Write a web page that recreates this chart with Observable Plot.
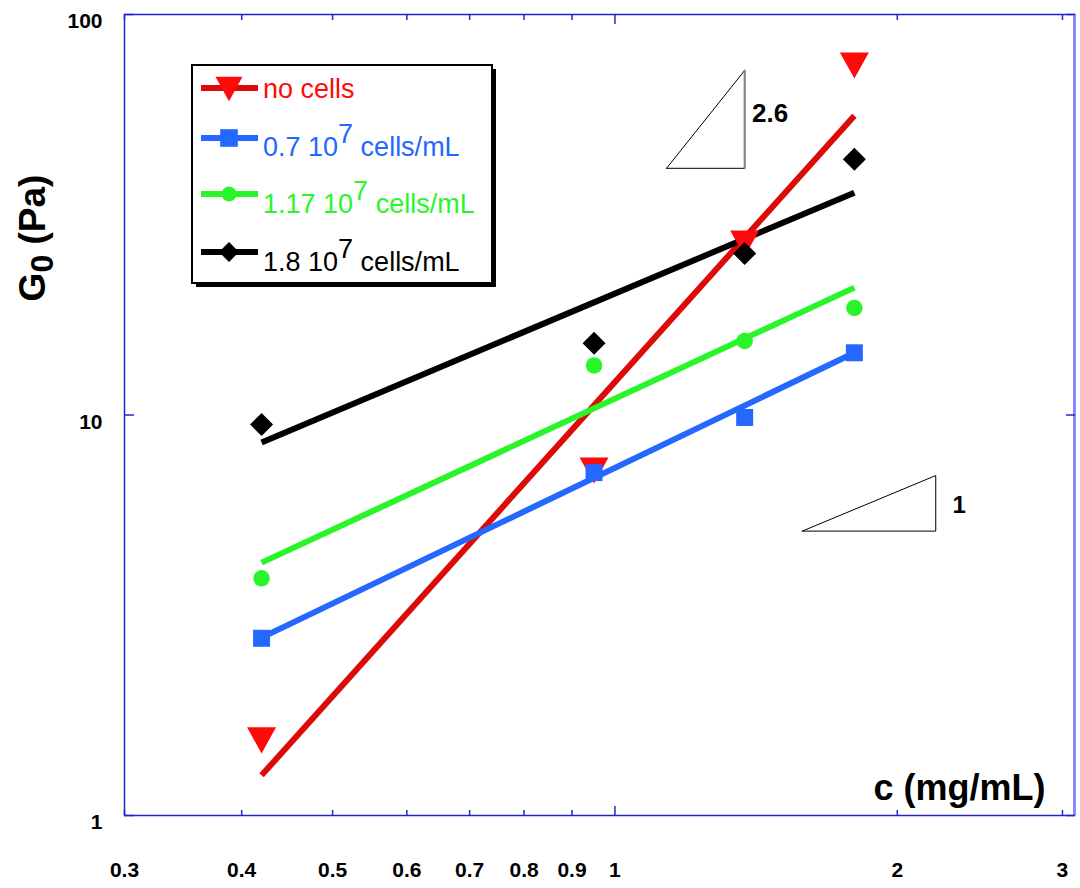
<!DOCTYPE html>
<html><head><meta charset="utf-8">
<script src="https://cdn.jsdelivr.net/npm/d3@7"></script>
<script src="https://cdn.jsdelivr.net/npm/@observablehq/plot@0.6"></script>
<style>body{margin:0;background:#fff} svg{display:block}</style>
</head><body><div id="chart"></div>
<script>
// ---- data ----
const conc = [0.42, 0.95, 1.375, 1.8];                 // c (mg/mL)
const noCells = [1.54, 7.27, 26.8, 74.6];              // G0 (Pa)
const cells07 = [2.77, 7.18, 9.86, 14.3];
const cells117 = [3.91, 13.3, 15.3, 18.5];
const cells18 = [9.47, 15.1, 25.3, 43.5];
const fitConc = [0.42, 1.8];                           // power-law fit end points
const fitNoCells = [1.26, 55.9];
const fit07 = [2.78, 14.3];
const fit117 = [4.28, 20.8];
const fit18 = [8.54, 35.9];
const seriesNames = ["no cells", "0.7 10", "1.17 10", "1.8 10"];
const seriesSup = ["", "7", "7", "7"];
const seriesUnit = ["", " cells/mL", " cells/mL", " cells/mL"];
const xDomain = [0.3, 3.09];
const yDomain = [1, 100];
const xTickValues = [0.3, 0.4, 0.5, 0.6, 0.7, 0.8, 0.9, 1, 2, 3];
const xMinorTicks = [0.3, 0.4, 0.5, 0.6, 0.7, 0.8, 0.9, 2, 3];
const xMajorTicks = [1];
const yTickValues = [1, 10, 100];
const tri1X = [1.135, 1.375, 1.375, 1.135];
const tri1Y = [41.3, 41.3, 72.5, 41.3];
const tri2X = [1.584, 2.198, 2.198, 1.584];
const tri2Y = [5.13, 5.13, 7.06, 5.13];
const slopeLabels = ["2.6", "1"];
const slopeLabelX = [1.40, 2.29];
const slopeLabelY = [54.0, 5.68];

const FONT = "'Liberation Sans', Arial, Helvetica, sans-serif";
const lineColors = ["#dd0a0a", "#2468ff", "#2af52a", "#000000"];
const markColors = ["#ff0a0a", "#2468ff", "#2af52a", "#000000"];
const axisBlue = "#2323cf";

// custom symbols
const invTriangle = {draw(ctx, size) { const r = Math.sqrt(size / Math.PI);
  ctx.moveTo(-r, -0.9 * r); ctx.lineTo(r, -0.9 * r); ctx.lineTo(0, 0.9 * r); ctx.closePath(); }};
const square = {draw(ctx, size) { const r = Math.sqrt(size / Math.PI); ctx.rect(-r, -r, 2 * r, 2 * r); }};
const circle = {draw(ctx, size) { const r = Math.sqrt(size / Math.PI); ctx.moveTo(r, 0); ctx.arc(0, 0, r, 0, 2 * Math.PI); }};
const diamond = {draw(ctx, size) { const r = Math.sqrt(size / Math.PI);
  ctx.moveTo(0, -r); ctx.lineTo(r, 0); ctx.lineTo(0, r); ctx.lineTo(-r, 0); ctx.closePath(); }};
const symbols = [invTriangle, square, circle, diamond];
const plotR = [14.5, 8.5, 8.25, 11.5];
const legendR = [13.5, 8.8, 7.5, 10];

const values = [noCells, cells07, cells117, cells18];
const fits = [fitNoCells, fit07, fit117, fit18];

const lineMarks = fits.map((f, i) => Plot.line(fitConc.map((c, j) => ({c, g: f[j]})),
  {x: "c", y: "g", stroke: lineColors[i], strokeWidth: 6, strokeLinecap: "butt"}));
const dotMarks = values.map((v, i) => Plot.dot(conc.map((c, j) => ({c, g: v[j]})),
  {x: "c", y: "g", symbol: symbols[i], r: plotR[i], fill: markColors[i], stroke: "none"}));

function legendMark() {
  const g = d3.create("svg:g").attr("font-family", FONT).attr("text-anchor", "start");
  g.append("rect").attr("x", 196).attr("y", 69).attr("width", 300).attr("height", 218).attr("fill", "#000");
  g.append("rect").attr("x", 192).attr("y", 65).attr("width", 300).attr("height", 218)
    .attr("fill", "#fff").attr("stroke", "#000").attr("stroke-width", 2);
  const lineY = [88, 138, 194, 252];
  const baseY = [98, 156, 213, 271];
  seriesNames.forEach((name, i) => {
    g.append("line").attr("x1", 201).attr("x2", 258).attr("y1", lineY[i]).attr("y2", lineY[i])
      .attr("stroke", lineColors[i]).attr("stroke-width", 6);
    g.append("path").attr("transform", `translate(229,${lineY[i] + (i === 0 ? 1 : 0)})`)
      .attr("d", d3.symbol(symbols[i], Math.PI * legendR[i] ** 2)()).attr("fill", markColors[i]);
    const t = g.append("text").attr("x", 263).attr("y", baseY[i]).attr("font-size", 27)
      .attr("text-anchor", "start").attr("fill", markColors[i]);
    t.append("tspan").text(name);
    if (seriesSup[i]) {
      t.append("tspan").attr("dy", -13).text(seriesSup[i]);
      t.append("tspan").attr("dy", 13).text(seriesUnit[i]);
    }
  });
  return g.node();
}

function yTitleMark() {
  const g = d3.create("svg:g");
  const t = g.append("text").attr("transform", "translate(45,238) rotate(-90)")
    .attr("text-anchor", "middle").attr("font-family", FONT).attr("font-weight", "bold")
    .attr("font-size", 37).attr("fill", "#000");
  t.append("tspan").text("G");
  t.append("tspan").attr("dy", 8).attr("font-size", 32).text("0");
  t.append("tspan").attr("dy", -8).text(" (Pa)");
  return g.node();
}

const chart = Plot.plot({
  width: 1080, height: 888,
  marginLeft: 124, marginRight: 6, marginTop: 14, marginBottom: 73,
  style: {fontFamily: FONT, background: "#fff"},
  x: {type: "log", domain: xDomain, label: null},
  y: {type: "log", domain: yDomain, label: null},
  marks: [
    Plot.frame({stroke: axisBlue, strokeWidth: 1.5}),
    Plot.ruleX([xDomain[1]], {stroke: "#8888ff", strokeWidth: 3}),
    // inward ticks
    Plot.axisX({ticks: xMinorTicks, anchor: "bottom", tickSize: 5, dy: -5, fill: "none", stroke: axisBlue, strokeWidth: 1.5}),
    Plot.axisX({ticks: xMajorTicks, anchor: "bottom", tickSize: 9, dy: -9, fill: "none", stroke: axisBlue, strokeWidth: 1.5}),
    Plot.axisX({ticks: xMinorTicks, anchor: "top", tickSize: 5, dy: 5, fill: "none", stroke: axisBlue, strokeWidth: 1.5}),
    Plot.axisX({ticks: xMajorTicks, anchor: "top", tickSize: 9, dy: 9, fill: "none", stroke: axisBlue, strokeWidth: 1.5}),
    Plot.axisY({ticks: yTickValues, anchor: "left", tickSize: 10, dx: 10, fill: "none", stroke: axisBlue, strokeWidth: 1.5}),
    Plot.axisY({ticks: yTickValues, anchor: "right", tickSize: 9, dx: -9, fill: "none", stroke: axisBlue, strokeWidth: 1.5}),
    // tick labels
    Plot.axisX({ticks: xTickValues, anchor: "bottom", tickSize: 0, tickPadding: 47, tickFormat: d => String(d),
      fontSize: 21, fontWeight: "bold", fill: "#000"}),
    Plot.axisY({ticks: yTickValues, anchor: "left", tickSize: 0, tickPadding: 22, dy: 7, tickFormat: d => String(d),
      fontSize: 21, fontWeight: "bold", fill: "#000"}),
    // slope triangles
    Plot.line(tri1X.map((x, i) => ({x, y: tri1Y[i]})), {x: "x", y: "y", stroke: "#000", strokeWidth: 1}),
    Plot.line(tri1X.slice(1, 3).map((x, i) => ({x, y: tri1Y[i + 1]})), {x: "x", y: "y", stroke: "#808080", strokeWidth: 2}),
    Plot.line(tri2X.map((x, i) => ({x, y: tri2Y[i]})), {x: "x", y: "y", stroke: "#000", strokeWidth: 1}),
    Plot.text([0], {x: slopeLabelX[0], y: slopeLabelY[0], text: () => slopeLabels[0], textAnchor: "start", lineAnchor: "bottom",
      fontSize: 26, fontWeight: "bold", fill: "#000"}),
    Plot.text([0], {x: slopeLabelX[1], y: slopeLabelY[1], text: () => slopeLabels[1], textAnchor: "start", lineAnchor: "bottom",
      fontSize: 24, fontWeight: "bold", fill: "#000"}),
    ...lineMarks,
    ...dotMarks,
    // axis titles
    Plot.text(["c (mg/mL)"], {frameAnchor: "bottom-right", text: d => d, dx: -29, dy: -16, textAnchor: "end", lineAnchor: "bottom",
      fontSize: 36, fontWeight: "bold", fill: "#000"}),
    yTitleMark,
    legendMark
  ]
});
document.getElementById("chart").append(chart);
</script>
</body></html>
